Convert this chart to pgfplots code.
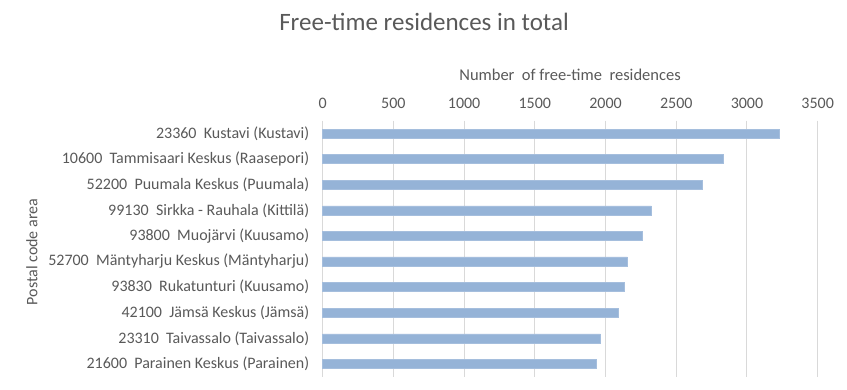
\documentclass[border=0pt]{standalone}
\usepackage{fontspec}
\setmainfont{Carlito}
\usepackage{pgfplots}
\pgfplotsset{compat=1.18}
\definecolor{barc}{HTML}{95B3D7}
\definecolor{txt}{HTML}{595959}
\definecolor{gridc}{HTML}{D9D9D9}
\begin{document}
\begin{tikzpicture}[x=1pt,y=1pt]
\path[use as bounding box] (0,0) rectangle (847,390);
\begin{axis}[at={(322.7pt,13.3pt)}, anchor=south west, scale only axis,
  width=495pt, height=256pt,
  xbar, bar width=9pt,
  xmin=0, xmax=3500, ymin=-0.5, ymax=9.5, y dir=reverse,
  axis line style={draw=none},
  xticklabel pos=right,
  xtick={0,500,...,3500},
  ytick={0,...,9},
  yticklabels={{23360\ \ Kustavi (Kustavi)},{10600\ \ Tammisaari Keskus (Raasepori)},{52200\ \ Puumala Keskus (Puumala)},{99130\ \ Sirkka - Rauhala (Kittilä)},{93800\ \ Muojärvi (Kuusamo)},{52700\ \ Mäntyharju Keskus (Mäntyharju)},{93830\ \ Rukatunturi (Kuusamo)},{42100\ \ Jämsä Keskus (Jämsä)},{23310\ \ Taivassalo (Taivassalo)},{21600\ \ Parainen Keskus (Parainen)}},
  major tick length=0pt,
  xmajorgrids, major grid style={draw=gridc, line width=1pt},
  /pgf/number format/assume math mode=true,
  /pgf/number format/set thousands separator={},
  xticklabel style={font=\fontsize{16}{16}\selectfont, text=txt, yshift=9pt},
  yticklabel style={font=\fontsize{16}{16}\selectfont, text=txt, xshift=-10pt},
  clip=false,
]
\addplot[fill=barc, draw=barc!85!white, line width=0.5pt] coordinates {
 (3228,0) (2833,1) (2682,2) (2324,3) (2258,4) (2154,5) (2133,6) (2088,7) (1964,8) (1935,9)};
\end{axis}
\node[text=txt, font=\fontsize{16.5}{16.5}\selectfont] at (570,315) {Number\ \ of free-time\ \ residences};
\node[text=txt, font=\fontsize{25}{25}\selectfont] at (424,368) {Free-time residences in total};
\node[text=txt, font=\fontsize{16}{16}\selectfont, rotate=90] at (32,138) {Postal code area};
\end{tikzpicture}
\end{document}
